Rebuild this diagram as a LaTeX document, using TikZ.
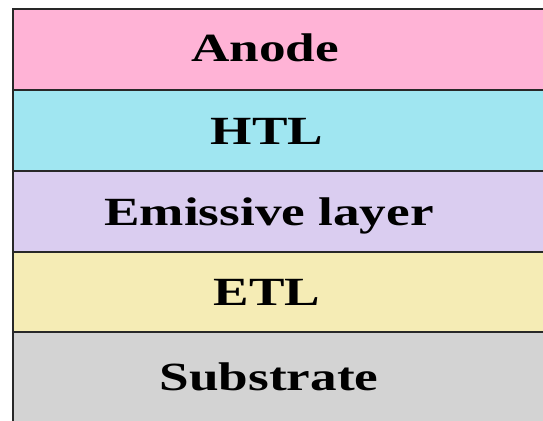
\documentclass[tikz,border=0pt]{standalone}
\usepackage{fontspec}
\setmainfont{Liberation Serif}
\definecolor{anodefill}{RGB}{255,179,214}
\definecolor{htlfill}{RGB}{160,230,241}
\definecolor{emlfill}{RGB}{218,205,240}
\definecolor{etlfill}{RGB}{245,236,181}
\definecolor{subfill}{RGB}{211,211,211}
\definecolor{edge}{RGB}{40,40,40}
\begin{document}
\begin{tikzpicture}[x=1pt,y=-1pt,
  layerbox/.style={draw=edge, line width=2.5pt},
  lbl/.style={font=\fontsize{40}{40}\selectfont\bfseries, xscale=1.33, inner sep=0pt, anchor=base}]
\useasboundingbox (0,0) rectangle (543,420);
\fill[white] (0,0) rectangle (543,420);
\begin{scope}
\clip (0,0) rectangle (543,420);
% device stack, top to bottom
\draw[layerbox, fill=anodefill] (13,9) rectangle (570,90);
\draw[layerbox, fill=htlfill] (13,90) rectangle (570,171);
\draw[layerbox, fill=emlfill] (13,171) rectangle (570,252);
\draw[layerbox, fill=etlfill] (13,252) rectangle (570,332);
\draw[layerbox, fill=subfill] (13,332) rectangle (570,424);
\end{scope}
% layer names
\node[lbl] (anode) at (265,62) {Anode};
\node[lbl] (htl) at (267,144) {HTL};
\node[lbl] (eml) at (269,225) {Emissive layer};
\node[lbl] (etl) at (267,305) {ETL};
\node[lbl] (sub) at (269,390) {Substrate};
\end{tikzpicture}
\end{document}
